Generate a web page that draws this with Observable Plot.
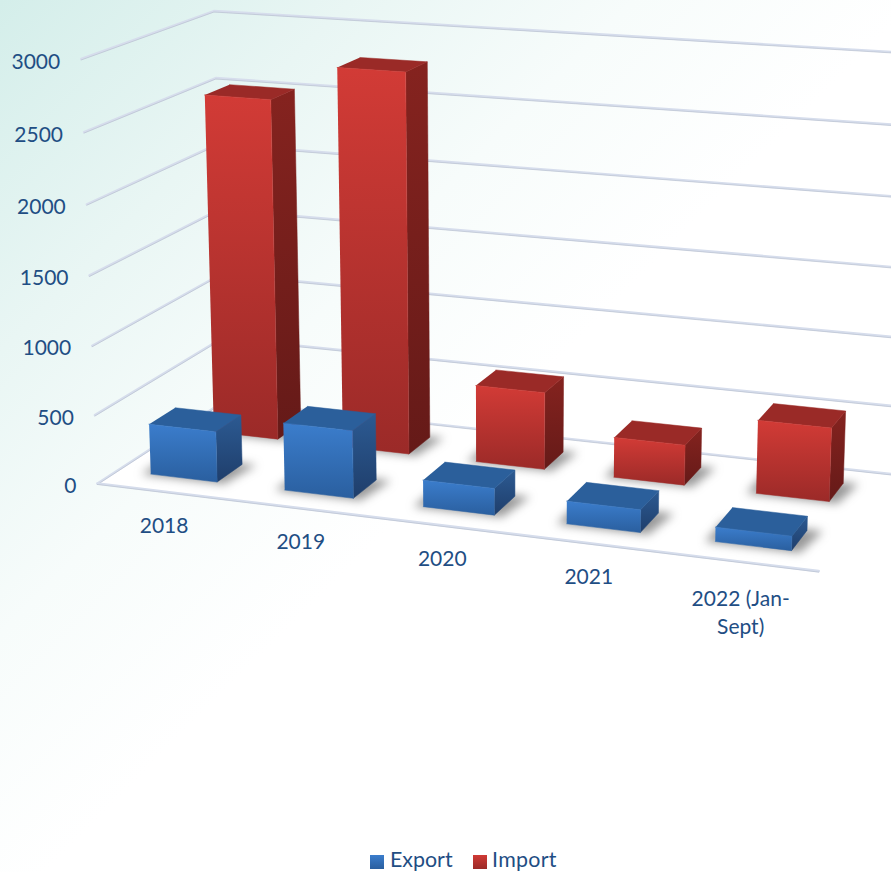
<!DOCTYPE html>
<html>
<head>
<meta charset="utf-8">
<script src="https://cdn.jsdelivr.net/npm/d3@7"></script>
<script src="https://cdn.jsdelivr.net/npm/@observablehq/plot@0.6"></script>
<style>
html,body{margin:0;padding:0;width:891px;height:872px;overflow:hidden}
body{background:linear-gradient(135deg,#d4eeea 0%,#e9f6f4 20%,#f7fcfb 36%,#ffffff 52%);font-family:Lato,sans-serif}
#legend{position:relative;height:27px;color:#1f4e84;font-size:21.4px;line-height:21px}
#legend i{position:absolute;top:10px;width:14px;height:14px}
#legend span{position:absolute;top:3.5px;white-space:nowrap}
</style>
</head>
<body>
<div id="chart"></div>
<div id="legend">
  <i style="left:370px;background:linear-gradient(#3b7dcc,#2a5f9f)"></i><span style="left:390px">Export</span>
  <i style="left:473px;background:linear-gradient(#d03a35,#9b2a28)"></i><span style="left:492px;letter-spacing:.3px">Import</span>
</div>
<script>
const categories = ["2018", "2019", "2020", "2021", "2022 (Jan-\nSept)"];
const exportValues = [368, 486, 190, 160, 100];
const importValues = [2523, 2786, 566, 292, 527];
const tickValues = [0, 500, 1000, 1500, 2000, 2500, 3000];
const maxValue = 3000;

// Perspective camera: origin plus the three vanishing points of the plot box
const O = [97, 483];
const VX = [-7747, -470], AX = -0.0842;
const VY = [1585, -485], AY = 0.093;
const VZ = [500, 11000], AZ = -0.0388;
function project(u, v, value) {
  const w = value / maxValue;
  const d = 1 + u * AX + v * AY + w * AZ;
  return {
    x: (O[0] + u * AX * VX[0] + v * AY * VY[0] + w * AZ * VZ[0]) / d,
    y: (O[1] + u * AX * VX[1] + v * AY * VY[1] + w * AZ * VZ[1]) / d
  };
}

const n = categories.length;
function face(id, corners) {
  return corners.map(([u, v, val]) => ({id, ...project(u, v, val)}));
}
function barFaces(values, v0, v1) {
  const front = [], side = [], top = [], shadow = [];
  values.forEach((val, i) => {
    const u0 = (i + 0.25) / n, u1 = (i + 0.75) / n;
    front.push(...face(i, [[u0,v0,0],[u1,v0,0],[u1,v0,val],[u0,v0,val]]));
    side.push(...face(i, [[u1,v0,0],[u1,v1,0],[u1,v1,val],[u1,v0,val]]));
    top.push(...face(i, [[u0,v0,val],[u1,v0,val],[u1,v1,val],[u0,v1,val]]));
    shadow.push(...face(i, [[u0-0.012,v0-0.012,0],[u1+0.012,v0-0.012,0],[u1+0.02,v1+0.01,0],[u0-0.012,v1+0.01,0]]));
  });
  return {front, side, top, shadow};
}
const blue = barFaces(exportValues, 0.15, 0.35);
const red = barFaces(importValues, 0.65, 0.85);

const floor = face(0, [[0,0,0],[1,0,0],[1.1,1,0],[0,1,0]]);
const grid = tickValues.flatMap(t => face(t, [[0,0,t],[0,1,t],[1.1,1,t]]));
const frontEdge = face(0, [[0,0,0],[1,0,0]]);

const textColor = "#1f4e84";
const font = {fontFamily: "Lato, sans-serif", fontSize: 21, fill: textColor};
const poly = (data, fill, extra = {}) =>
  Plot.line(data, {x: "x", y: "y", z: "id", fill, stroke: fill, strokeWidth: 0.5, curve: "linear", ...extra});

const yLabels = tickValues.map(t => ({label: String(t), ...project(0, 0, t)}));
const xLabels = categories.map((label, i) => ({label, ...project((i + 0.5) / n, 0, 0)}));
const singleLine = xLabels.filter(d => !d.label.includes("\n"));
const multiLine = xLabels.filter(d => d.label.includes("\n"));

const gradient = (id, a, b) => `<linearGradient id="${id}" x1="0" y1="0" x2="0" y2="1"><stop offset="0" stop-color="${a}"/><stop offset="1" stop-color="${b}"/></linearGradient>`;

const gridStroke = {x: "x", y: "y", z: "id", curve: "linear", strokeLinejoin: "miter"};

const chart = Plot.plot({
  width: 891,
  height: 845,
  margin: 0,
  style: {background: "transparent"},
  x: {domain: [0, 891], range: [0, 891], axis: null},
  y: {domain: [0, 845], range: [0, 845], axis: null},
  marks: [
    () => {
      const defs = document.createElementNS("http://www.w3.org/2000/svg", "defs");
      defs.innerHTML =
        gradient("redFront", "#d23b36", "#9b2a28") +
        gradient("redSide", "#85231f", "#651a18") +
        gradient("blueFront", "#3b7dcc", "#2a5f9f") +
        gradient("blueSide", "#2c5a92", "#1f3e6b");
      return defs;
    },
    Plot.line(floor, {x: "x", y: "y", z: "id", fill: "#ffffff", stroke: "none", curve: "linear"}),
    Plot.line(grid, {...gridStroke, stroke: "#d6ddec", strokeWidth: 2.4}),
    Plot.line(grid, {...gridStroke, stroke: "#b4bccb", strokeWidth: 0.6, dy: 1}),
    Plot.line(frontEdge, {x: "x", y: "y", stroke: "#d6ddec", strokeWidth: 2.6, curve: "linear"}),
    Plot.line(frontEdge, {x: "x", y: "y", stroke: "#b4bccb", strokeWidth: 0.6, dy: 1, curve: "linear"}),
    Plot.line(red.shadow, {x: "x", y: "y", z: "id", fill: "#555", stroke: "none", fillOpacity: 0.6, imageFilter: "blur(5px)", curve: "linear"}),
    Plot.line(blue.shadow, {x: "x", y: "y", z: "id", fill: "#555", stroke: "none", fillOpacity: 0.6, imageFilter: "blur(5px)", curve: "linear"}),
    poly(red.side, "url(#redSide)"),
    poly(red.top, "#9a2a27"),
    poly(red.front, "url(#redFront)"),
    poly(blue.side, "url(#blueSide)"),
    poly(blue.top, "#2b5f9b"),
    poly(blue.front, "url(#blueFront)"),
    Plot.text(yLabels, {x: "x", y: "y", text: "label", textAnchor: "end", dx: -21, dy: 3, ...font}),
    Plot.text(singleLine, {x: "x", y: "y", text: "label", textAnchor: "middle", lineAnchor: "top", dy: 26, ...font}),
    Plot.text(multiLine, {x: "x", y: "y", text: "label", textAnchor: "middle", lineAnchor: "top", dy: 24, lineHeight: 1.36, ...font})
  ]
});
document.getElementById("chart").append(chart);
</script>
</body>
</html>
